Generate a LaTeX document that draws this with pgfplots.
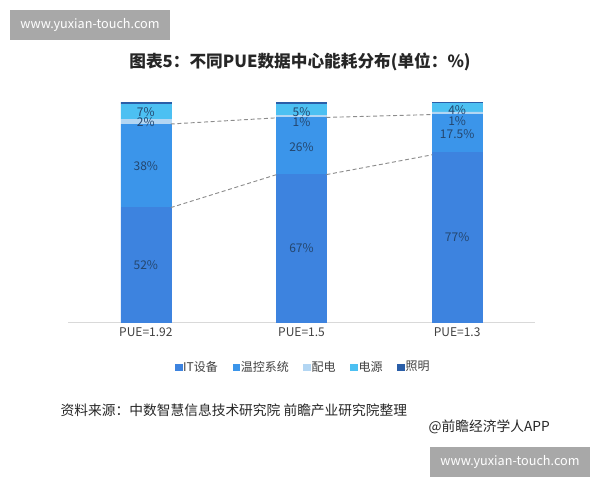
\documentclass[border=0pt]{standalone}
\usepackage{fontspec}
\setmainfont{Noto Sans CJK SC}
\usepackage{pgfplots}
\pgfplotsset{compat=1.18}
\definecolor{cIT}{HTML}{3D83DF}
\definecolor{cTemp}{HTML}{3B95EA}
\definecolor{cDist}{HTML}{B3D6F3}
\definecolor{cPow}{HTML}{4CC0F2}
\definecolor{cLight}{HTML}{2A5EA8}
\definecolor{lbl}{HTML}{24466E}
\definecolor{wm}{HTML}{A8A8A8}
\begin{document}
\begin{tikzpicture}
% 1px = 0.75pt, origin at bottom left of the 600x480 picture
\path[use as bounding box] (0,0) rectangle (450pt,360pt);

% watermark boxes
\node[fill=wm, text=white, minimum width=120pt, minimum height=22.5pt, font=\fontsize{9.5}{11}\selectfont]
  at (67.5pt,341.25pt) {www.yuxian-touch.com};
\node[fill=wm, text=white, minimum width=120pt, minimum height=22.5pt, font=\fontsize{9.5}{11}\selectfont]
  at (382.5pt,13.5pt) {www.yuxian-touch.com};

% title
\node[font=\fontsize{12.5}{14}\selectfont\bfseries, text=black!85] at (225pt,313.5pt)
  {图表5：不同PUE数据中心能耗分布(单位：\%)};

\begin{axis}[
    at={(51pt,118.5pt)}, anchor=south west,
    scale only axis, width=350.25pt, height=165pt,
    ybar stacked, bar width=37.5pt,
    xmin=-0.5, xmax=2.5, ymin=0, ymax=100,
    axis x line*=bottom, axis y line=none,
    x axis line style={draw=black!15, -},
    xtick={0,1,2}, xticklabels={PUE=1.92, PUE=1.5, PUE=1.3},
    major tick length=0pt,
    xticklabel style={font=\fontsize{9}{10}\selectfont, text=black!75, yshift=-1pt},
    legend columns=5,
    legend style={at={(0.503,-0.205)}, anchor=center, draw=none,
        font=\fontsize{9}{10}\selectfont, text=black!75,
        /tikz/every even column/.append style={column sep=10pt},
        nodes={inner xsep=1pt}},
    legend image code/.code={\fill[#1] (0pt,-2.6pt) rectangle (5pt,2.4pt);},
    clip=false,
]
\addplot[fill=cIT, draw=cIT, line width=0.2pt] coordinates {(0,52) (1,67) (2,77)};
\addplot[fill=cTemp, draw=cTemp, line width=0.2pt] coordinates {(0,38) (1,26) (2,17.5)};
\addplot[fill=cDist, draw=cDist, line width=0.2pt] coordinates {(0,2) (1,1) (2,1)};
\addplot[fill=cPow, draw=cPow, line width=0.2pt] coordinates {(0,7) (1,5) (2,4)};
\addplot[fill=cLight, draw=cLight, line width=0.2pt] coordinates {(0,1) (1,1) (2,0.5)};
\legend{IT设备, 温控系统, 配电, 电源, 照明}
\end{axis}

% overlay: connector lines and segment labels
\begin{axis}[
    at={(51pt,118.5pt)}, anchor=south west,
    scale only axis, width=350.25pt, height=165pt,
    xmin=-0.5, xmax=2.5, ymin=0, ymax=100,
    hide axis, clip=false,
]
\addplot[dash pattern=on 3pt off 2pt, color=black!45, line width=0.7pt]
  coordinates {(0.16,52) (0.84,67)};
\addplot[dash pattern=on 3pt off 2pt, color=black!45, line width=0.7pt]
  coordinates {(1.16,67) (1.84,76)};
\addplot[dash pattern=on 3pt off 2pt, color=black!45, line width=0.7pt]
  coordinates {(0.16,90) (0.84,92.8)};
\addplot[dash pattern=on 3pt off 2pt, color=black!45, line width=0.7pt]
  coordinates {(1.16,93) (1.84,94.3)};
\addplot[draw=none, nodes near coords={\pgfplotspointmeta\%},
    point meta=explicit symbolic,
    nodes near coords align=center,
    every node near coord/.append style={font=\fontsize{9}{9}\selectfont, text=lbl, inner sep=0pt}]
  table[meta=lab] {
x y lab
0 26 52
0 71 38
0 90.8 2
0 95.5 7
1 33.5 67
1 79.5 26
1 90.8 1
1 95.5 5
2 38.5 77
2 85.5 17.5
2 91.2 1
2 96.3 4
};
\end{axis}

% source line and credit
\node[anchor=west, font=\fontsize{10.3}{12}\selectfont, text=black!85] at (42pt,52.5pt)
  {资料来源：中数智慧信息技术研究院\ 前瞻产业研究院整理};
\node[anchor=west, font=\fontsize{10.3}{12}\selectfont, text=black!85] at (318pt,39.5pt)
  {@前瞻经济学人APP};
\end{tikzpicture}
\end{document}
